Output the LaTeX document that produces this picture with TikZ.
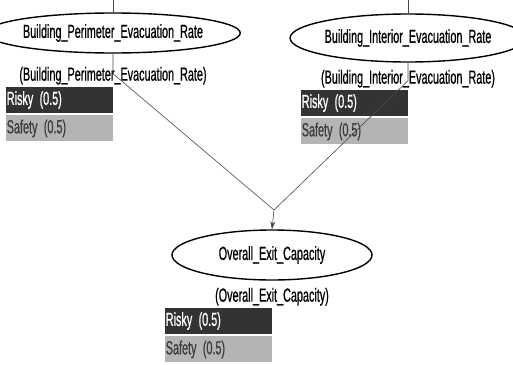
\documentclass[tikz,border=0pt]{standalone}
\usepackage{fontspec}
\usepackage{tikz}
\usetikzlibrary{arrows.meta,shapes.geometric,positioning}

\newfontfamily\netfont[FakeStretch=0.57,FakeBold=0.6]{Liberation Sans}
\definecolor{riskyfill}{HTML}{333333}
\definecolor{safetyfill}{HTML}{B4B4B4}
\definecolor{safetytext}{HTML}{3C3C3C}
\definecolor{linkgray}{HTML}{4A4A4A}

\begin{document}
\begin{tikzpicture}[x=1pt, y=-1pt, >={Stealth[length=8pt,width=5pt]},
    font=\netfont\fontsize{19}{22}\selectfont,
    var/.style={ellipse, draw, line width=1.4pt, inner sep=0pt},
    caption/.style={inner sep=0pt},
    bar/.style={text width=105pt, align=left, minimum height=26pt, inner sep=1pt},
    risky/.style={bar, fill=riskyfill, text=white},
    safety/.style={bar, fill=safetyfill, text=safetytext},
    link/.style={draw=linkgray, line width=0.6pt}]
    \useasboundingbox (0,0) rectangle (513,364);

    % Variables
    \node [var, minimum width=210pt, minimum height=40pt] (perim)    at (113,33)  {Building\_Perimeter\_Evacuation\_Rate};
    \node [var, minimum width=205pt, minimum height=48pt] (interior) at (408,38)  {Building\_Interior\_Evacuation\_Rate};
    \node [var, minimum width=200pt, minimum height=50pt] (exit)     at (272,255) {Overall\_Exit\_Capacity};

    % Captions
    \node [caption] (perimlbl)    [below=13pt of perim]    {(Building\_Perimeter\_Evacuation\_Rate)};
    \node [caption] (interiorlbl) [below=7pt of interior]  {(Building\_Interior\_Evacuation\_Rate)};
    \node [caption] (exitlbl)     [below=7pt of exit]      {(Overall\_Exit\_Capacity)};

    % States
    \node [risky]  (perimrisky)     [below left=2pt and 0pt of perimlbl.south]    {Risky (0.5)};
    \node [safety] (perimsafety)    [below=2pt of perimrisky]                     {Safety (0.5)};
    \node [risky]  (interiorrisky)  [below left=2pt and 0pt of interiorlbl.south] {Risky (0.5)};
    \node [safety] (interiorsafety) [below=2pt of interiorrisky]                  {Safety (0.5)};
    \node [risky]  (exitrisky)      [below left=2pt and 0pt of exitlbl.south]     {Risky (0.5)};
    \node [safety] (exitsafety)     [below=2pt of exitrisky]                      {Safety (0.5)};

    % Links
    \coordinate (perimin)    at (113,0);
    \coordinate (interiorin) at (408,0);
    \coordinate (join)       at (274,210);
    \path [link] (perimin) -- (perim.north);
    \path [link] (interiorin) -- (interior.north);
    \path [link] (perim.south) -- ++(0,20) -- (join);
    \path [link] (interior.south) -- ++(0,18) -- (join);
    \path [link, ->] (join) -- (exit.north);

\end{tikzpicture}
\end{document}
